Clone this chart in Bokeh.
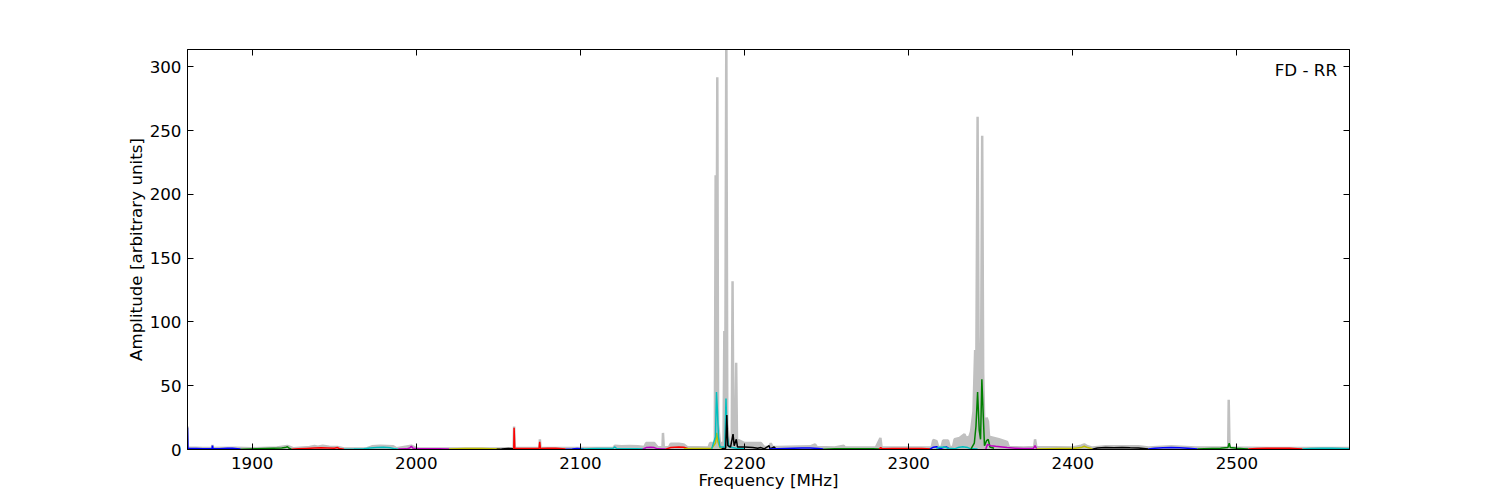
from bokeh.plotting import figure
from bokeh.models import Range1d, FixedTicker, LinearAxis, Label
from bokeh.embed import file_html
from bokeh.resources import INLINE

# ---------------- data ----------------
x_ticks = [1900, 2000, 2100, 2200, 2300, 2400, 2500]
y_ticks = [0, 50, 100, 150, 200, 250, 300]
panel_label = "FD - RR"

# grey envelope (max hold) over the whole sweep
gray_f = [1860.6, 1860.8, 1861.2, 1870, 1875.5, 1875.8, 1876.2, 1890, 1900, 1915, 1921.5, 1925,
          1935, 1938, 1940, 1943, 1947, 1952, 1956, 1970, 1973, 1978, 1982, 1986, 1988, 1997,
          2000, 2050, 2059.3, 2059.6, 2060.0, 2075.0, 2075.3, 2075.7, 2120, 2121, 2125, 2130,
          2135, 2139, 2140, 2145, 2147, 2150, 2150.3, 2150.8, 2154, 2155, 2160, 2163, 2165,
          2178, 2179, 2181.9, 2182.4, 2182.8, 2183.4, 2183.9, 2185.0, 2187.2, 2187.7, 2188.2,
          2188.9, 2189.5, 2190.5, 2192.2, 2192.7, 2193.2, 2194.3, 2194.9, 2195.4, 2200, 2205, 2210,
          2212, 2215, 2216, 2217, 2220, 2240, 2243, 2244, 2255, 2260.5, 2261, 2280, 2282.8, 2283.5,
          2314, 2315, 2317, 2318, 2320, 2321, 2324, 2325, 2327, 2328, 2331, 2333, 2334, 2335, 2337,
          2338, 2339.5, 2340.5, 2341.2, 2342.0, 2342.6, 2343.5, 2344.2, 2344.8, 2345.4, 2346.2,
          2347.5, 2348.3, 2349, 2355, 2360, 2361, 2370, 2376.5, 2377, 2377.8, 2400, 2405, 2407,
          2409, 2412, 2420, 2440, 2446, 2460, 2475, 2494.7, 2495.0, 2495.5, 2520, 2568.6]
gray_v = [18, 2.0, 1.5, 1.2, 1.2, 3.5, 1.2, 1.4, 1.0, 1.6, 2.8, 1.0,
          2.0, 2.8, 2.2, 3.0, 2.2, 2.0, 0.8, 1.0, 2.5, 3.0, 2.8, 2.5, 1.0, 3.0,
          1.0, 0.8, 1.0, 18, 1.2, 1.2, 8, 1.2, 1.2, 3.0, 2.5, 2.8,
          2.5, 2.0, 5, 5, 2, 1.5, 13, 1.5, 2, 4.5, 4.5, 4, 2,
          1.5, 5, 5, 215, 40, 292, 20, 5, 5, 93, 20,
          330, 20, 6, 6, 132, 15, 8, 68, 8, 5, 5, 5,
          2, 2, 5, 2, 2, 2.5, 4, 2, 1.5, 3, 1.5, 1.5, 9, 1.5,
          1.5, 7.5, 6.5, 2, 2, 7, 7, 2, 2, 8, 9, 11, 12, 9, 10,
          14, 30, 78, 60, 261, 80, 30, 90, 246, 60, 10,
          25, 22, 10, 8, 6, 2, 1.5, 2, 8, 2, 1.5, 3, 4,
          2.5, 1.5, 2.5, 2.5, 1.5, 2.5, 1.5, 1.5, 39, 1.5, 1.2, 1.2]

# coloured sub-band traces
b01_f = [1860.6, 1860.9, 1862, 1866, 1870, 1875.5, 1875.8, 1876.2, 1880, 1885, 1888, 1891, 1893]
b01_v = [17, 1.0, 0.8, 0.7, 0.6, 0.5, 3, 0.5, 0.6, 0.9, 1.0, 0.6, 0.3]
b02_f = [1893, 1898, 1903, 1908, 1913, 1918, 1920, 1921.5, 1922.5, 1924]
b02_v = [0.2, 0.4, 0.6, 0.8, 1.0, 1.2, 1.5, 2.2, 1.0, 0.3]
b03_f = [1924, 1928, 1933, 1938, 1942, 1946, 1950, 1952, 1953, 1956]
b03_v = [0.2, 0.5, 0.8, 1.1, 1.3, 1.2, 0.9, 1.5, 0.8, 0.2]
b04_f = [1956, 1962, 1968, 1972, 1976, 1980, 1984, 1987, 1989]
b04_v = [0.2, 0.3, 0.5, 1.2, 1.6, 1.7, 1.4, 0.5, 0.2]
b05_f = [1989, 1994, 1996, 1997, 1998, 2002, 2008, 2014, 2020]
b05_v = [0.3, 0.5, 1.2, 2.5, 1.0, 0.6, 0.5, 0.5, 0.3]
b06_f = [2020, 2025, 2030, 2035, 2040, 2045, 2051]
b06_v = [0.3, 0.6, 0.8, 0.8, 0.8, 0.6, 0.3]
b07_f = [2049, 2052, 2056, 2059]
b07_v = [0.2, 0.4, 0.8, 0.6]
b08_f = [2059, 2059.4, 2059.6, 2060.0, 2065, 2070, 2074.8, 2075.2, 2075.6, 2080, 2085, 2091]
b08_v = [0.5, 0.8, 17, 0.8, 0.8, 0.7, 0.8, 6, 0.8, 1.0, 0.9, 0.3]
b09_f = [2091, 2095, 2098, 2100, 2102]
b09_v = [0.2, 0.4, 0.8, 0.5, 0.3]
b10_f = [2100, 2105, 2110, 2115, 2120, 2121, 2122, 2128, 2134, 2140]
b10_v = [0.2, 0.6, 0.8, 0.8, 1.0, 2.0, 0.8, 0.6, 0.6, 0.4]
b11_f = [2138, 2140, 2143, 2145, 2147, 2152]
b11_v = [0.3, 1.5, 1.8, 1.5, 0.5, 0.3]
b12_f = [2152, 2155, 2160, 2163, 2166]
b12_v = [0.3, 1.5, 2.0, 1.8, 0.5]
b13_f = [2163, 2168, 2174, 2180, 2182.3, 2183.0, 2183.8, 2185.0, 2186]
b13_v = [0.5, 0.8, 0.8, 1.0, 5, 13, 6, 1.5, 0.8]
b14_f = [2180, 2182.3, 2182.9, 2183.5, 2184.1, 2185.0, 2188.0, 2188.7, 2189.3, 2190.5, 2195, 2200]
b14_v = [0.5, 10, 45, 30, 10, 2, 2, 40, 12, 2, 1.0, 0.8]
b15_f = [2186, 2188.5, 2189.2, 2189.8, 2191.5, 2193.0, 2193.7, 2195.0, 2195.7, 2200, 2205, 2208,
         2210, 2212, 2215, 2215.5, 2218, 2219]
b15_v = [0.5, 1, 27, 3, 2, 12, 3, 8, 2, 2, 1.5, 1, 1.5, 0.5, 3, 0.5, 2, 0.5]
b16_f = [2215, 2220, 2225, 2230, 2235, 2240, 2245, 2248]
b16_v = [0.3, 0.6, 0.8, 1.0, 1.2, 1.2, 0.8, 0.3]
b17_f = [2248, 2255, 2262, 2270, 2278, 2282]
b17_v = [0.2, 0.5, 0.6, 0.6, 0.6, 0.3]
b18_f = [2282, 2283, 2284, 2290, 2300, 2308, 2314]
b18_v = [0.3, 1.5, 0.5, 0.8, 0.8, 0.8, 0.3]
b19_f = [2313, 2315, 2317, 2319, 2321, 2323, 2325]
b19_v = [0.3, 1.8, 2.2, 0.5, 1.5, 2.0, 0.3]
b20_f = [2317, 2318, 2322, 2324, 2328, 2330, 2333, 2336, 2338, 2340, 2342]
b20_v = [0.5, 1.5, 2.0, 1.0, 0.5, 1.5, 2.2, 1.5, 0.5, 0.5, 0.3]
b21_f = [2338, 2340, 2341, 2342, 2343, 2343.8, 2344.6, 2345.5, 2346.2, 2347.5, 2348.5, 2349.5, 2352]
b21_v = [0.5, 5, 18, 45, 15, 8, 55, 25, 3, 7, 8, 2, 1]
b22_f = [2347, 2348, 2350, 2353, 2357, 2360, 2365, 2370, 2376, 2377, 2378]
b22_v = [0.3, 4, 3, 2.5, 2, 1.5, 1.0, 0.8, 0.8, 3, 0.5]
b23_f = [2378, 2385, 2392, 2400, 2405, 2407, 2409, 2412]
b23_v = [0.3, 0.5, 0.7, 0.8, 1.5, 2.5, 1.5, 0.5]
b24_f = [2412, 2415, 2420, 2425, 2430, 2435, 2440, 2443, 2446]
b24_v = [0.3, 1.2, 1.5, 1.4, 1.5, 1.3, 1.2, 0.8, 0.3]
b25_f = [2446, 2450, 2455, 2460, 2465, 2470, 2476]
b25_v = [0.3, 1.0, 1.3, 1.5, 1.3, 1.0, 0.3]
b26_f = [2476, 2480, 2485, 2490, 2494.5, 2495.3, 2496, 2500, 2504, 2507]
b26_v = [0.3, 0.6, 0.8, 1.0, 1.5, 5, 1.5, 1.0, 0.6, 0.3]
b27_f = [2507, 2512, 2518, 2525, 2532, 2537, 2540]
b27_v = [0.3, 0.8, 1.0, 1.0, 0.9, 0.6, 0.3]
b28_f = [2540, 2545, 2552, 2558, 2564, 2568.6]
b28_v = [0.3, 0.8, 1.0, 1.0, 0.8, 0.5]

band_colors = ["b", "g", "r", "c", "m", "y", "k", "r", "b", "c", "m", "r", "y", "c",
               "k", "b", "g", "r", "b", "c", "g", "m", "y", "k", "b", "g", "r", "c"]

# ---------------- styling ----------------
COLORS = {"b": "#0000ff", "g": "#008000", "r": "#ff0000", "c": "#00bfbf",
          "m": "#bf00bf", "y": "#bfbf00", "k": "#000000"}
GRAY = "#c0c0c0"
FONT = "DejaVu Sans"
FS = "16.7px"

bands_f = [b01_f, b02_f, b03_f, b04_f, b05_f, b06_f, b07_f, b08_f, b09_f, b10_f, b11_f, b12_f,
           b13_f, b14_f, b15_f, b16_f, b17_f, b18_f, b19_f, b20_f, b21_f, b22_f, b23_f, b24_f,
           b25_f, b26_f, b27_f, b28_f]
bands_v = [b01_v, b02_v, b03_v, b04_v, b05_v, b06_v, b07_v, b08_v, b09_v, b10_v, b11_v, b12_v,
           b13_v, b14_v, b15_v, b16_v, b17_v, b18_v, b19_v, b20_v, b21_v, b22_v, b23_v, b24_v,
           b25_v, b26_v, b27_v, b28_v]

p = figure(frame_width=1162, frame_height=400, output_backend="svg", toolbar_location=None,
           x_range=Range1d(1860.6, 2568.6), y_range=Range1d(0, 313.7),
           min_border_left=187, min_border_right=140, min_border_top=49, min_border_bottom=42,
           background_fill_color="white", border_fill_color="white")
p.grid.visible = False
p.outline_line_color = "black"
p.outline_line_width = 1

p.varea(x=gray_f, y1=[0] * len(gray_f), y2=gray_v, fill_color=GRAY)
p.line(gray_f, gray_v, line_color=GRAY, line_width=2.5)
for f, v, c in zip(bands_f, bands_v, band_colors):
    p.line(f, v, line_color=COLORS[c], line_width=1.5)

def style_axis(ax, ticks, show_labels=True):
    ax.ticker = FixedTicker(ticks=ticks)
    ax.major_tick_in = 6
    ax.major_tick_out = 0
    ax.minor_tick_in = 0
    ax.minor_tick_out = 0
    ax.axis_line_color = "black"
    ax.major_tick_line_color = "black"
    ax.major_label_text_font = FONT
    ax.major_label_text_color = "black"
    ax.major_label_text_font_size = FS
    ax.axis_label_text_font = FONT
    ax.axis_label_text_font_style = "normal"
    ax.axis_label_text_font_size = FS
    ax.axis_label_text_color = "black"
    if not show_labels:
        ax.major_label_overrides = {t: "" for t in ticks}
        ax.major_label_standoff = 0

style_axis(p.xaxis[0], x_ticks)
style_axis(p.yaxis[0], y_ticks)
p.xaxis[0].axis_label = "Frequency [MHz]"
p.yaxis[0].axis_label = "Amplitude [arbitrary units]"
p.xaxis[0].major_label_standoff = 7
p.xaxis[0].axis_label_standoff = -2
p.yaxis[0].major_label_standoff = 6
p.yaxis[0].axis_label_standoff = 1

top_ax = LinearAxis()
style_axis(top_ax, x_ticks, show_labels=False)
p.add_layout(top_ax, "above")
right_ax = LinearAxis()
style_axis(right_ax, y_ticks, show_labels=False)
p.add_layout(right_ax, "right")

p.add_layout(Label(x=2561, y=297.6, text=panel_label, text_align="right",
                   text_baseline="middle", text_font=FONT, text_font_size=FS,
                   text_color="black"))

open("out.html", "w").write(file_html(p, INLINE))
